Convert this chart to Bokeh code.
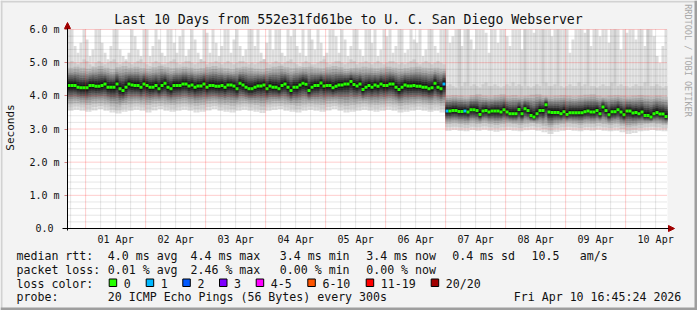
import numpy as np
from bokeh.plotting import figure
from bokeh.models import (ColumnDataSource, FixedTicker, Label, BoxAnnotation, LinearAxis,
                          Arrow, NormalHead, Range1d)
from bokeh.embed import file_html
from bokeh.resources import INLINE

# ---------------- data ----------------
T_START = -7.25   # hours relative to 01 Apr 00:00  (31 Mar 16:45)
T_END = 232.75    # 10 Apr 16:45
STEP_H = 1.2      # one consolidated step, hours
Y_MIN, Y_MAX = 0.0, 6.0

median_ms = [
    4.31, 4.31, 4.31, 4.26, 4.24, 4.24, 4.24, 4.31, 4.31, 4.29,
    4.29, 4.31, 4.36, 4.26, 4.26, 4.26, 4.36, 4.21, 4.16, 4.26,
    4.36, 4.33, 4.31, 4.31, 4.26, 4.36, 4.31, 4.26, 4.26, 4.31,
    4.21, 4.31, 4.38, 4.26, 4.21, 4.31, 4.31, 4.31, 4.36, 4.36,
    4.30, 4.33, 4.26, 4.30, 4.30, 4.36, 4.26, 4.31, 4.31, 4.29,
    4.29, 4.31, 4.26, 4.33, 4.33, 4.30, 4.21, 4.38, 4.33, 4.26,
    4.21, 4.21, 4.26, 4.30, 4.30, 4.33, 4.21, 4.30, 4.26, 4.26,
    4.21, 4.31, 4.36, 4.26, 4.16, 4.26, 4.26, 4.33, 4.38, 4.35,
    4.16, 4.26, 4.31, 4.31, 4.39, 4.30, 4.31, 4.31, 4.24, 4.29,
    4.33, 4.33, 4.36, 4.36, 4.43, 4.34, 4.30, 4.36, 4.19, 4.26,
    4.31, 4.26, 4.33, 4.29, 4.36, 4.31, 4.31, 4.36, 4.36, 4.26,
    4.19, 4.26, 4.33, 4.30, 4.30, 4.31, 4.29, 4.29, 4.26, 4.26,
    4.21, 4.24, 4.38, 4.26, 4.21, 4.36,
    3.54, 3.54, 3.56, 3.56,
    3.53, 3.53, 3.54, 3.51, 3.58, 3.58, 3.56, 3.44, 3.54, 3.56,
    3.51, 3.54, 3.54, 3.54, 3.51, 3.58, 3.51, 3.46, 3.46, 3.46,
    3.59, 3.46, 3.61, 3.56, 3.41, 3.36, 3.46, 3.56, 3.56, 3.73,
    3.51, 3.50, 3.50, 3.50, 3.46, 3.52, 3.44, 3.49, 3.49, 3.49,
    3.49, 3.49, 3.52, 3.54, 3.51, 3.51, 3.56, 3.46, 3.66, 3.56,
    3.43, 3.52, 3.52, 3.58, 3.51, 3.43, 3.54, 3.54, 3.48, 3.50,
    3.46, 3.51, 3.41, 3.41, 3.36, 3.46, 3.50, 3.45, 3.45, 3.38,
]

loss_pings = [0] * 200
loss_pings[125] = 1
loss_pings[126] = 1
loss_pings[132] = 1

max_ms = [
    6.0, 6.0, 5.5, 5.3, 5.6, 6.0, 5.7, 5.2, 5.4, 6.0,
    6.0, 5.6, 5.3, 5.1, 5.5, 6.0, 6.0, 5.4, 5.2, 5.1,
    5.3, 6.0, 5.8, 5.4, 5.2, 6.0, 6.0, 5.2, 5.5, 6.0,
    5.7, 5.3, 5.2, 6.0, 6.0, 5.6, 5.3, 5.8, 6.0, 5.2,
    5.4, 6.0, 5.7, 5.3, 5.1, 6.0, 5.9, 5.3, 6.0, 5.6,
    5.2, 5.5, 6.0, 6.0, 5.3, 5.7, 6.0, 5.5, 5.2, 5.4,
    6.0, 6.0, 5.5, 6.0, 5.3, 5.1, 5.6, 6.0, 5.4, 6.0,
    6.0, 5.3, 5.2, 6.0, 5.8, 6.0, 5.5, 5.3, 6.0, 5.2,
    6.0, 5.7, 5.4, 6.0, 5.6, 5.2, 5.3, 6.0, 6.0, 5.8,
    5.3, 6.0, 5.7, 5.2, 5.5, 6.0, 6.0, 5.4, 5.2, 6.0,
    6.0, 5.6, 6.0, 5.2, 5.4, 6.0, 5.8, 6.0, 5.3, 5.5,
    6.0, 6.0, 5.3, 5.4, 6.0, 5.7, 5.6, 6.0, 5.2, 5.4,
    6.0, 6.0, 5.5, 5.3, 6.0, 6.0,
    6.0, 5.6, 5.8, 6.0, 6.0, 5.5, 6.0, 6.0, 5.7, 5.4,
    6.0, 6.0, 6.0, 5.9, 5.3, 6.0, 6.0, 5.6, 6.0, 6.0,
    5.8, 5.5, 6.0, 6.0, 6.0, 5.4, 6.0, 6.0, 6.0, 5.9,
    6.0, 6.0, 6.0, 6.0, 6.0, 5.8, 6.0, 6.0, 6.0, 6.0,
    6.0, 5.3, 5.7, 6.0, 6.0, 6.0, 5.9, 6.0, 5.5, 6.0,
    6.0, 5.8, 6.0, 6.0, 5.6, 6.0, 6.0, 6.0, 5.4, 6.0,
    5.9, 6.0, 6.0, 5.7, 6.0, 6.0, 5.5, 6.0, 6.0, 5.8,
    5.2, 5.0, 5.5, 6.0,
]

p19_ms = [
    5.0, 5.05, 5.0, 4.95, 5.0, 5.1, 5.05, 4.95, 4.9, 5.0,
    5.05, 5.0, 4.95, 5.0, 5.05, 5.1, 5.0, 4.95, 5.0, 5.05,
    5.0, 4.95, 5.0, 5.05, 5.1, 5.0, 4.95, 4.9, 5.0, 5.05,
    5.0, 4.95, 4.95, 5.0, 5.05, 5.1, 5.0, 4.95, 5.0, 5.05,
    5.05, 5.0, 4.95, 5.0, 5.1, 5.05, 4.95, 5.0, 5.0, 5.05,
    5.0, 4.95, 5.0, 5.05, 5.0, 4.95, 5.0, 5.05, 5.05, 5.0,
    4.95, 5.0, 4.95, 5.0, 5.05, 5.1, 5.0, 4.95, 5.0, 5.05,
    5.0, 4.95, 5.0, 5.05, 5.1, 5.0, 4.95, 4.9, 5.0, 5.05,
    5.0, 4.95, 4.95, 5.0, 5.05, 5.1, 5.0, 4.95, 5.0, 5.05,
    5.05, 5.0, 4.95, 5.0, 5.1, 5.05, 4.95, 5.0, 5.0, 5.05,
    5.0, 4.95, 5.0, 5.05, 5.0, 4.95, 5.0, 5.05, 5.05, 5.0,
    4.95, 5.0, 4.95, 5.0, 5.05, 5.1, 5.0, 4.95, 5.0, 5.05,
    5.0, 4.95, 5.0, 5.05, 5.0, 4.95,
    4.3, 4.35, 4.3, 4.25, 6.0, 4.3, 4.4, 6.0, 4.3, 4.35,
    4.3, 4.25, 4.35, 4.4, 4.3, 4.3, 4.35, 4.3, 4.25, 4.3,
    4.35, 4.3, 4.4, 4.3, 4.35, 4.3, 6.0, 4.3, 4.25, 4.3,
    4.35, 4.3, 6.0, 4.4, 4.3, 4.3, 4.35, 6.0, 4.3, 4.25,
    4.3, 4.35, 4.3, 4.3, 4.4, 4.3, 4.35, 6.0, 4.3, 4.3,
    4.25, 4.3, 4.35, 4.3, 4.3, 4.4, 6.0, 4.3, 4.35, 4.3,
    4.3, 4.25, 4.3, 4.35, 4.3, 4.3, 4.4, 6.0, 4.3, 4.3,
    4.35, 4.3, 4.25, 4.3,
]

# the following three are read at half resolution (one value per two steps)
q_hi_ms = [
    4.85, 4.88, 4.85, 4.82, 4.86, 4.9, 4.85, 4.8, 4.86, 4.9,
    4.85, 4.88, 4.84, 4.82, 4.86, 4.9, 4.86, 4.83, 4.85, 4.88,
    4.85, 4.82, 4.84, 4.87, 4.9, 4.85, 4.83, 4.8, 4.85, 4.88,
    4.85, 4.82, 4.8, 4.84, 4.88, 4.9, 4.86, 4.83, 4.85, 4.87,
    4.88, 4.85, 4.83, 4.86, 4.9, 4.86, 4.82, 4.84, 4.85, 4.88,
    4.85, 4.83, 4.85, 4.88, 4.85, 4.82, 4.84, 4.86, 4.88, 4.85,
    4.83, 4.85, 4.82,
    4.0, 4.02, 4.0, 3.98, 4.02, 4.05, 4.0, 3.98, 4.02, 4.05,
    4.0, 4.02, 3.98, 4.0, 4.03, 4.05, 4.0, 3.98, 4.0, 4.02,
    4.0, 3.98, 4.0, 4.03, 4.05, 4.0, 3.98, 4.0, 4.02, 4.0,
    3.98, 4.0, 4.02, 4.0, 3.98, 4.0, 3.97,
]
q_lo_ms = [
    3.75, 3.77, 3.74, 3.72, 3.76, 3.78, 3.74, 3.68, 3.65, 3.72,
    3.75, 3.77, 3.74, 3.72, 3.76, 3.78, 3.74, 3.72, 3.75, 3.77,
    3.74, 3.7, 3.72, 3.76, 3.78, 3.74, 3.72, 3.7, 3.74, 3.77,
    3.75, 3.72, 3.68, 3.74, 3.77, 3.78, 3.74, 3.72, 3.7, 3.74,
    3.77, 3.74, 3.72, 3.76, 3.78, 3.74, 3.7, 3.72, 3.75, 3.77,
    3.74, 3.72, 3.74, 3.77, 3.74, 3.7, 3.72, 3.74, 3.77, 3.74,
    3.72, 3.74, 3.7,
    3.15, 3.17, 3.15, 3.13, 3.17, 3.15, 3.18, 3.15, 3.12, 3.15,
    3.17, 3.15, 3.13, 3.16, 3.18, 3.15, 3.1, 3.05, 3.12, 3.15,
    3.17, 3.15, 3.13, 3.16, 3.15, 3.18, 3.15, 3.13, 3.15, 3.1,
    3.05, 3.08, 3.13, 3.15, 3.17, 3.15, 3.12,
]
min_ms = [
    3.55, 3.58, 3.55, 3.52, 3.56, 3.6, 3.55, 3.5, 3.47, 3.52,
    3.55, 3.58, 3.55, 3.5, 3.56, 3.6, 3.55, 3.52, 3.55, 3.58,
    3.55, 3.5, 3.52, 3.56, 3.6, 3.55, 3.52, 3.5, 3.55, 3.58,
    3.55, 3.52, 3.48, 3.55, 3.58, 3.6, 3.55, 3.52, 3.5, 3.55,
    3.58, 3.55, 3.52, 3.56, 3.6, 3.55, 3.5, 3.52, 3.55, 3.58,
    3.55, 3.52, 3.55, 3.58, 3.55, 3.5, 3.52, 3.55, 3.58, 3.55,
    3.52, 3.55, 3.5,
    2.95, 2.97, 2.95, 2.93, 2.97, 2.95, 2.98, 2.95, 2.92, 2.95,
    2.97, 2.95, 2.93, 2.96, 2.98, 2.95, 2.9, 2.85, 2.92, 2.95,
    2.97, 2.95, 2.93, 2.96, 2.95, 2.98, 2.95, 2.93, 2.95, 2.9,
    2.85, 2.88, 2.93, 2.95, 2.97, 2.95, 2.93,
]

day_labels = ["01 Apr", "02 Apr", "03 Apr", "04 Apr", "05 Apr",
              "06 Apr", "07 Apr", "08 Apr", "09 Apr", "10 Apr"]
y_tick_values = [0, 1, 2, 3, 4, 5, 6]
y_tick_labels = ["0.0\u00a0", "1.0 m", "2.0 m", "3.0 m", "4.0 m", "5.0 m", "6.0 m"]

title_text = "Last 10 Days from 552e31fd61be to U. C. San Diego Webserver"
y_title = "Seconds"
credit_text = "RRDTOOL / TOBI OETIKER"
rtt_row = ["median rtt:", "4.0 ms avg", "4.4 ms max", "3.4 ms min", "3.4 ms now",
           "0.4 ms sd", "10.5", "am/s"]
loss_row = ["packet loss:", "0.01 % avg", "2.46 % max", "0.00 % min", "0.00 % now"]
loss_color_title = "loss color:"
loss_classes = ["0", "1", "2", "3", "4-5", "6-10", "11-19", "20/20"]
loss_colors = ["#26ff00", "#00b8ff", "#0059ff", "#7e00ff", "#ff00ff", "#ff5500", "#ff0000", "#a10000"]
probe_row = ["probe:", "20 ICMP Echo Pings (56 Bytes) every 300s", "Fri Apr 10 16:45:24 2026"]

# ---------------- geometry ----------------
N = len(median_ms)
assert N == 200 and len(max_ms) == N and len(p19_ms) == N
assert len(q_hi_ms) == 100 and len(q_lo_ms) == 100 and len(min_ms) == 100

W, H = 697, 310
PL, PR, PT, PB = 67, 667, 29, 228            # plot area in canvas px
px_x = (T_END - T_START) / (PR - PL)         # hours per px
px_y = (Y_MAX - Y_MIN) / (PB - PT)           # ms per px
x_range = Range1d(T_START - PL * px_x, T_END + (W - PR) * px_x)
y_range = Range1d(Y_MIN - (H - PB) * px_y, Y_MAX + PT * px_y)
MONO = "DejaVu Sans Mono"

p = figure(width=W, height=H, x_range=x_range, y_range=y_range,
           x_axis_type=None, y_axis_type=None,
           output_backend="svg", toolbar_location=None, min_border=0,
           background_fill_color="#f3f3f3", border_fill_color="#f3f3f3", outline_line_color=None)
p.grid.visible = False

# white plot area
p.quad(left=[T_START], right=[T_END], bottom=[Y_MIN], top=[Y_MAX], fill_color="white", line_color=None)

t0 = T_START + STEP_H * np.arange(N)
t1 = t0 + STEP_H
med = np.array(median_ms)
mx = np.minimum(np.array(max_ms), Y_MAX)
p19 = np.minimum(np.array(p19_ms), mx)
qhi = np.repeat(q_hi_ms, 2)
qlo = np.repeat(q_lo_ms, 2)
lo = np.repeat(min_ms, 2)

# smoke layers (outer -> inner)
grays = ["#dddddd", "#cccccc", "#b9b9b9", "#a4a4a4", "#8e8e8e",
         "#767676", "#5e5e5e", "#464646", "#2e2e2e", "#181818"]
layers = [(lo, mx), ((lo + qlo) / 2, p19)]
for g in [1.0, 0.85, 0.72, 0.60, 0.49, 0.38, 0.27, 0.16]:
    layers.append((med - (med - qlo) * g, med + (qhi - med) * g))
for (b, t), c in zip(layers, grays):
    src = ColumnDataSource(dict(left=t0, right=t1, bottom=b, top=t))
    p.quad(left="left", right="right", bottom="bottom", top="top", source=src,
           fill_color=c, line_color=None)

# median, coloured by loss
def loss_class(n):
    if n <= 3:
        return n
    if n <= 5:
        return 4
    if n <= 10:
        return 5
    if n <= 19:
        return 6
    return 7

half = 1.5 * px_y
msrc = ColumnDataSource(dict(left=t0, right=t1, bottom=med - half, top=med + half,
                             color=[loss_colors[loss_class(n)] for n in loss_pings]))
p.quad(left="left", right="right", bottom="bottom", top="top", source=msrc,
       fill_color="color", line_color=None)

# grid lines on top of the data (as rrdtool does)
minor_x = [h for h in range(-6, 233, 6) if h % 24 != 0]
major_x = [24 * d for d in range(10)]
minor_y = [round(0.2 * k, 1) for k in range(1, 30) if k % 5 != 0]
major_y = [1, 2, 3, 4, 5, 6]
def vgrid(ticks, color, alpha):
    p.segment(x0=ticks, x1=ticks, y0=[Y_MIN] * len(ticks), y1=[Y_MAX] * len(ticks),
              line_color=color, line_alpha=alpha, line_dash="1 1", line_width=1)
def hgrid(ticks, color, alpha):
    p.segment(x0=[T_START] * len(ticks), x1=[T_END] * len(ticks), y0=ticks, y1=ticks,
              line_color=color, line_alpha=alpha, line_dash="1 1", line_width=1)
vgrid(minor_x, "#000000", 0.2)
hgrid(minor_y, "#000000", 0.2)
vgrid(major_x, "#ff0000", 0.4)
hgrid(major_y, "#ff0000", 0.4)

# axes fixed at the plot-area edges
label_ticks = [12 + 24 * d for d in range(10)]
xa = LinearAxis(fixed_location=Y_MIN, bounds=(T_START, T_END), ticker=FixedTicker(ticks=label_ticks))
xa.major_label_overrides = {t: s for t, s in zip(label_ticks, day_labels)}
xa.major_tick_line_color = None
xa.major_tick_in = 0
xa.major_tick_out = 0
xa.minor_tick_line_color = None
xa.axis_line_color = "black"
xa.major_label_text_font = MONO
xa.major_label_text_font_size = "10px"
xa.major_label_text_color = "#111111"
xa.major_label_standoff = 5
p.add_layout(xa, "below")

ya = LinearAxis(fixed_location=T_START, bounds=(Y_MIN, Y_MAX), ticker=FixedTicker(ticks=y_tick_values))
ya.major_label_overrides = {v: s for v, s in zip(y_tick_values, y_tick_labels)}
ya.major_tick_in = 0
ya.major_tick_out = 3
ya.major_tick_line_color = "#d08080"
ya.minor_tick_line_color = None
ya.axis_line_color = "black"
ya.major_label_text_font = MONO
ya.major_label_text_font_size = "10px"
ya.major_label_text_color = "#111111"
ya.major_label_standoff = 5
p.add_layout(ya, "left")

# axis arrows
p.add_layout(Arrow(end=NormalHead(size=6, fill_color="#a00000", line_color="#a00000"),
                   x_start=T_START, y_start=Y_MIN - 2 * px_y, x_end=T_START, y_end=Y_MAX + 7 * px_y,
                   line_color="black", line_width=1))
p.add_layout(Arrow(end=NormalHead(size=6, fill_color="#a00000", line_color="#a00000"),
                   x_start=T_START - 5 * px_x, y_start=Y_MIN, x_end=T_END + 7 * px_x, y_end=Y_MIN,
                   line_color="black", line_width=1))

# texts (canvas px -> screen units of the full-canvas frame)
def put(text, cx, cy, size="11.6px", align="left", color="#111111", angle=0.0):
    p.add_layout(Label(x=cx, y=H - cy, x_units="screen", y_units="screen", text=text,
                       text_font=MONO, text_font_size=size, text_align=align,
                       text_baseline="middle", text_color=color, angle=angle))

def box(cx0, cy0, cx1, cy1, color, line=None):
    p.add_layout(BoxAnnotation(left=cx0, right=cx1, top=H - cy0, bottom=H - cy1,
                               left_units="screen", right_units="screen",
                               top_units="screen", bottom_units="screen",
                               fill_color=color, fill_alpha=1.0,
                               line_color=line, line_width=1, line_alpha=1.0))

put(title_text, 348, 19, size="13.2px", align="center")
put(y_title, 10, 127, size="11px", align="center", angle=np.pi / 2)
put(credit_text, 687.5, 60, size="8.5px", align="center", color="#a8a8a8", angle=-np.pi / 2)

rtt_x = [16, 107.3, 190, 279.3, 365.7, 451.7, 531, 579.3]
for s, x in zip(rtt_row, rtt_x):
    put(s, x, 255)
for s, x in zip(loss_row, rtt_x[:5]):
    put(s, x, 269)
put(loss_color_title, 16, 283)
box_x = [108.7, 145.7, 182.3, 219, 255.7, 307.3, 365.7, 430.7]
for s, c, x in zip(loss_classes, loss_colors, box_x):
    box(x, 278.5, x + 7.5, 286, c, "black")
    put(s, x + 14.6, 283)
put(probe_row[0], 16, 296.5)
put(probe_row[1], 107.3, 296.5)
put(probe_row[2], 513.3, 296.5)

# bevelled frame of the image
box(0, 0, W, 2, "#d2d2d2")
box(0, 0, 2, H, "#d2d2d2")
box(0, H - 3, W, H, "#9e9e9e")
box(W - 3, 0, W, H, "#9e9e9e")

open("out.html", "w").write(file_html(p, INLINE))
